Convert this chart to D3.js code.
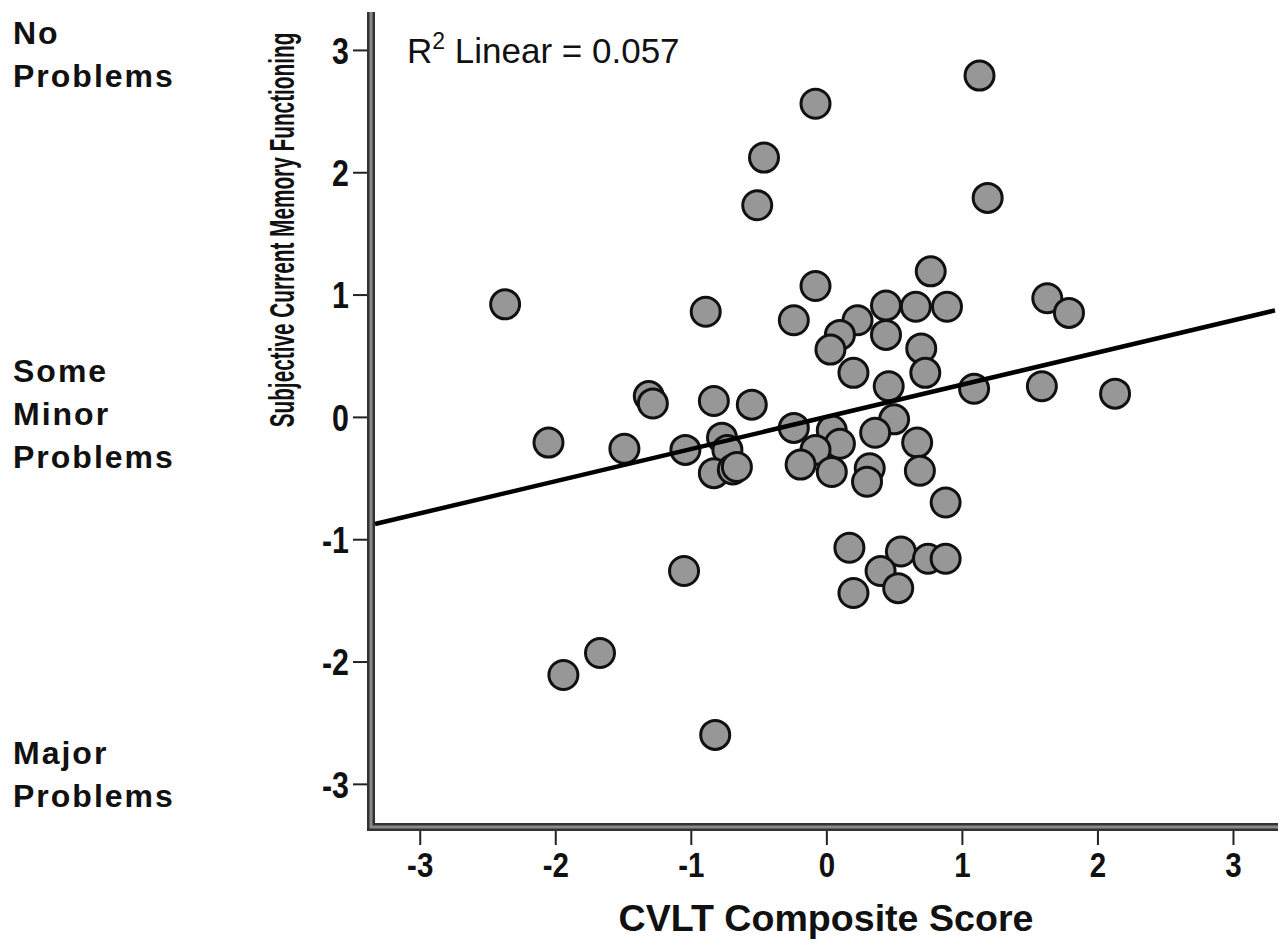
<!DOCTYPE html>
<html>
<head>
<meta charset="utf-8">
<script src="https://cdn.jsdelivr.net/npm/d3@7"></script>
<style>
  html, body { margin: 0; padding: 0; background: #fff; }
  svg { display: block; }
  .bold { font-family: 'Liberation Sans', Arial, sans-serif; font-weight: bold; }
</style>
</head>
<body>
<div id="container"></div>
<script>
// CVLT composite score (x) and subjective memory score (y), one entry per participant
const cvltScores = [
  1.13, -0.08, -0.46, -0.51, 1.19, -0.08, 0.77, -2.37, -0.89, -0.24,
  0.23, 0.44, 0.66, 0.89, 1.63, 1.79, 0.10, 0.03, 0.44, 0.70,
  0.20, 0.73, 0.46, 1.09, 1.59, 2.13, -1.31, -1.28, -0.83, -0.55,
  -2.05, -1.49, -1.04, -0.77, -0.73, -0.83, -0.69, -0.66, -0.24, 0.04,
  0.50, 0.36, 0.10, -0.08, 0.67, -0.19, 0.04, 0.32, 0.30, 0.69,
  0.88, 0.17, 0.55, 0.75, 0.88, 0.40, 0.53, 0.20, -1.05, -1.94,
  -1.67, -0.82
]
const memoryScores = [
  2.79, 2.56, 2.12, 1.73, 1.79, 1.07, 1.19, 0.92, 0.86, 0.79,
  0.79, 0.91, 0.90, 0.90, 0.97, 0.85, 0.67, 0.55, 0.67, 0.56,
  0.36, 0.36, 0.25, 0.23, 0.25, 0.19, 0.17, 0.11, 0.13, 0.10,
  -0.21, -0.26, -0.27, -0.17, -0.27, -0.46, -0.43, -0.41, -0.09, -0.11,
  -0.02, -0.13, -0.22, -0.27, -0.21, -0.39, -0.45, -0.42, -0.53, -0.44,
  -0.70, -1.07, -1.10, -1.16, -1.16, -1.26, -1.40, -1.44, -1.26, -2.11,
  -1.93, -2.60
]

const xTicks = [-3, -2, -1, 0, 1, 2, 3]
const yTicks = [-3, -2, -1, 0, 1, 2, 3]

// fit line
const fitSlope = 0.263
const fitIntercept = 0.0
const rSquared = '0.057'

const scaleLabels = [
  { value: 3, lines: ['No', 'Problems'] },
  { value: 0, lines: ['Some', 'Minor', 'Problems'] },
  { value: -3, lines: ['Major', 'Problems'] }
]

const width = 1285
const height = 948
const plot = { left: 375, right: 1275, top: 12, bottom: 823 }

const data = cvltScores.map((x, i) => ({ x, y: memoryScores[i] }))

const svg = d3.select('#container')
  .append('svg')
  .attr('width', width)
  .attr('height', height)

const xScale = d3.scaleLinear()
  .domain([-3.33, 3.31])
  .range([plot.left, plot.right])
const yScale = d3.scaleLinear()
  .domain([-3.32, 3.31])
  .range([plot.bottom, plot.top])

// points
svg.append('g')
  .selectAll('circle')
  .data(data)
  .enter()
  .append('circle')
  .attr('cx', d => xScale(d.x))
  .attr('cy', d => yScale(d.y))
  .attr('r', 14.5)
  .attr('fill', '#979797')
  .attr('stroke', '#111')
  .attr('stroke-width', 3)

// fit line
const line = d3.line()
  .x(d => xScale(d))
  .y(d => yScale(fitIntercept + fitSlope * d))
svg.append('path')
  .datum(xScale.domain())
  .attr('fill', 'none')
  .attr('stroke', '#000')
  .attr('stroke-width', 4.5)
  .attr('d', line)

const minus = d => d < 0 ? '-' + Math.abs(d) : String(d)

// axes
const yAxis = svg.append('g')
  .attr('class', 'bold')
  .attr('transform', `translate(${plot.left - 4},0)`)
  .call(d3.axisLeft(yScale).tickValues(yTicks).tickSize(18).tickPadding(4).tickFormat(minus))
yAxis.select('.domain').remove()
yAxis.selectAll('.tick line').attr('stroke', '#222').attr('stroke-width', 2)
yAxis.selectAll('.tick text')
  .attr('fill', '#111')
  .style('font-size', '37px')
  .attr('dy', '0.36em')
  .attr('x', null)
  .attr('transform', 'translate(-22,0) scale(0.82,1)')

const xAxis = svg.append('g')
  .attr('class', 'bold')
  .attr('transform', `translate(0,${plot.bottom + 4})`)
  .call(d3.axisBottom(xScale).tickValues(xTicks).tickSize(18).tickPadding(6).tickFormat(minus))
xAxis.select('.domain').remove()
xAxis.selectAll('.tick line').attr('stroke', '#222').attr('stroke-width', 2)
xAxis.selectAll('.tick text')
  .attr('fill', '#111')
  .style('font-size', '36px')
  .attr('y', null)
  .attr('transform', 'translate(0,24) scale(0.82,1)')

// double axis lines
const frame = `M${plot.left - 4},${plot.top} V${plot.bottom + 4} H${plot.right + 3}`
svg.append('path').attr('d', frame).attr('fill', 'none')
  .attr('stroke', '#333').attr('stroke-width', 8)
svg.append('path').attr('d', frame).attr('fill', 'none')
  .attr('stroke', '#8a8a8a').attr('stroke-width', 3)

// R² annotation
const rText = svg.append('text')
  .attr('x', 407)
  .attr('y', 63)
  .attr('fill', '#111')
  .style('font-family', "'Liberation Sans', Arial, sans-serif")
  .style('font-size', '35px')
rText.append('tspan').text('R')
rText.append('tspan').attr('dy', -14).style('font-size', '23px').text('2')
rText.append('tspan').attr('dy', 14).text(' Linear = ' + rSquared)

// axis titles, squeezed horizontally to the condensed look of the original
function squeezed (g, label, size, targetWidth) {
  const t = g.append('text')
    .attr('class', 'bold')
    .attr('text-anchor', 'middle')
    .attr('fill', '#111')
    .style('font-size', size + 'px')
    .text(label)
  const w = t.node().getComputedTextLength()
  t.attr('transform', `scale(${targetWidth / w},1)`)
  return t
}

squeezed(svg.append('g').attr('transform', 'translate(294,230) rotate(-90)'),
  'Subjective Current Memory Functioning', 36, 395)
squeezed(svg.append('g').attr('transform', 'translate(826,931)'),
  'CVLT Composite Score', 37, 415)

// descriptive scale anchors on the far left
const anchorPos = { 3: 44, 0: 382, '-3': 764 }
scaleLabels.forEach(lab => {
  const t = svg.append('text')
    .attr('x', 13)
    .attr('y', anchorPos[lab.value])
    .attr('fill', '#111')
    .attr('class', 'bold')
    .style('font-size', '32px')
    .style('letter-spacing', '2px')
  lab.lines.forEach((s, i) => {
    t.append('tspan').attr('x', 13).attr('dy', i === 0 ? 0 : 43).text(s)
  })
})
</script>
</body>
</html>
